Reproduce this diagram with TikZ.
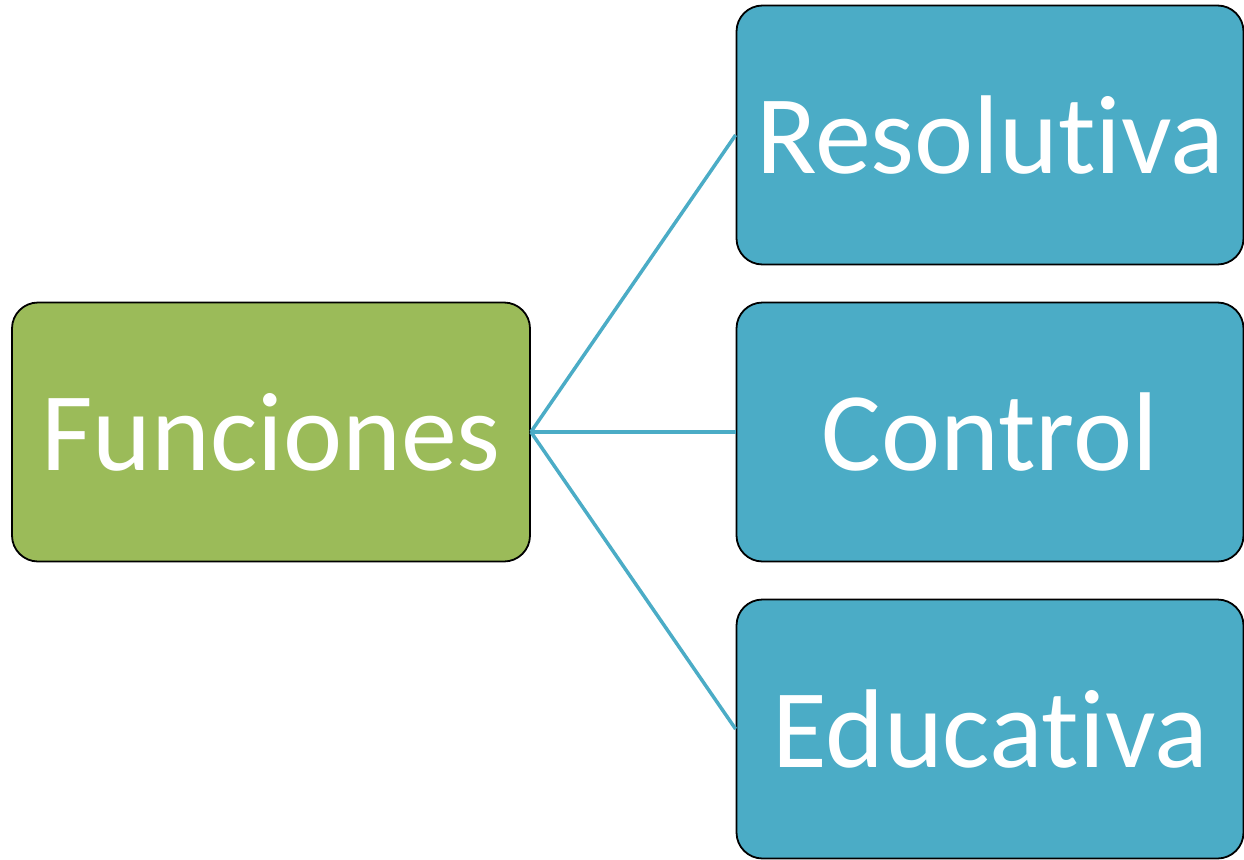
\documentclass[tikz,border=0pt]{standalone}
\usepackage{fontspec}
\setmainfont[Ligatures=NoCommon]{Carlito}
\definecolor{verde}{HTML}{9BBB59}
\definecolor{azul}{HTML}{4BACC6}

\begin{document}
\begin{tikzpicture}[x=1pt, y=-1pt,
	caja/.style={rounded corners=26pt, draw=black, line width=1.8pt, text=white,
		minimum width=507pt, minimum height=259pt, inner sep=0pt,
		font=\fontsize{112}{112}\selectfont},
	rama/.style={draw=azul, line width=3.5pt}]
	\useasboundingbox (0,0) rectangle (1244,859);
	\node[caja, fill=verde, minimum width=518pt](funciones) at (271,432) {Funciones};
	\node[caja, fill=azul](resolutiva) at (990,135) {Resolutiva};
	\node[caja, fill=azul](control) at (990,432) {Control};
	\node[caja, fill=azul](educativa) at (990,729) {Educativa};
	\draw[rama] (funciones.east) -- (resolutiva.west);
	\draw[rama] (funciones.east) -- (control.west);
	\draw[rama] (funciones.east) -- (educativa.west);
\end{tikzpicture}
\end{document}
